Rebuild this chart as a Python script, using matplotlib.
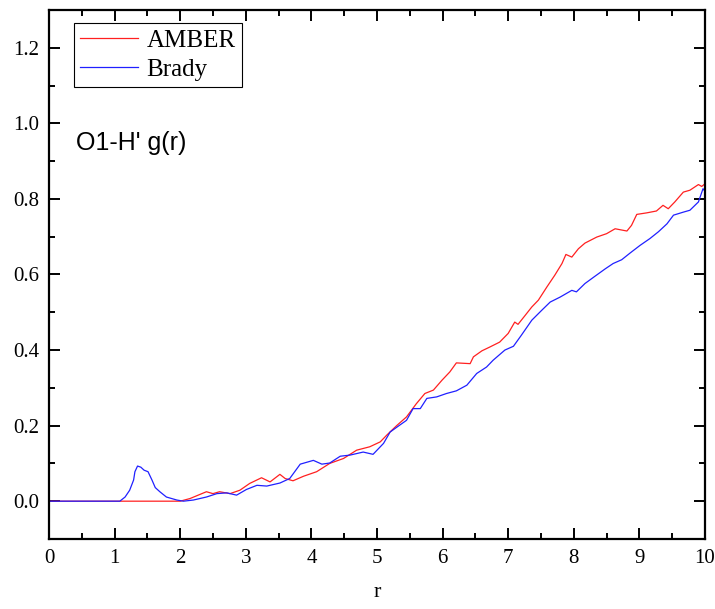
# O1-H' radial distribution, AMBER vs Brady
import numpy as np
import matplotlib.pyplot as plt
from matplotlib.ticker import MultipleLocator

# values
r_amber = [0.0, 1.0, 2.0, 2.15, 2.40, 2.50, 2.60, 2.76, 2.91, 3.06, 3.24, 3.37, 3.52, 3.60,
           3.72, 3.88, 4.08, 4.28, 4.49, 4.69, 4.89, 5.05, 5.15, 5.30, 5.45, 5.60, 5.73,
           5.86, 5.99, 6.11, 6.21, 6.42, 6.47, 6.60, 6.72, 6.87, 7.00, 7.10, 7.15, 7.26,
           7.36, 7.46, 7.59, 7.71, 7.82, 7.88, 7.97, 8.07, 8.17, 8.35, 8.50, 8.63, 8.81,
           8.88, 8.96, 9.11, 9.26, 9.36, 9.44, 9.54, 9.67, 9.77, 9.90, 9.95, 10.0]
g_amber = [0.0, 0.0, 0.0, 0.007, 0.025, 0.020, 0.025, 0.020, 0.029, 0.047, 0.062, 0.051, 0.071, 0.060,
           0.054, 0.066, 0.078, 0.100, 0.113, 0.135, 0.144, 0.157, 0.175, 0.200, 0.223, 0.258, 0.285,
           0.294, 0.320, 0.342, 0.366, 0.364, 0.382, 0.398, 0.408, 0.421, 0.444, 0.474, 0.468, 0.492,
           0.514, 0.532, 0.567, 0.598, 0.629, 0.653, 0.646, 0.668, 0.683, 0.699, 0.708, 0.721, 0.715,
           0.730, 0.759, 0.763, 0.768, 0.783, 0.774, 0.792, 0.818, 0.823, 0.838, 0.833, 0.840]

r_brady = [0.0, 1.08, 1.16, 1.23, 1.29, 1.31, 1.35, 1.40, 1.45, 1.51, 1.57, 1.62, 1.69, 1.79,
           1.95, 2.05, 2.20, 2.40, 2.56, 2.71, 2.86, 3.01, 3.17, 3.32, 3.52, 3.67, 3.83,
           4.03, 4.16, 4.28, 4.44, 4.59, 4.79, 4.94, 5.10, 5.20, 5.32, 5.45, 5.55, 5.66,
           5.76, 5.91, 6.06, 6.21, 6.37, 6.52, 6.67, 6.77, 6.95, 7.08, 7.20, 7.36, 7.51,
           7.64, 7.79, 7.97, 8.04, 8.17, 8.32, 8.48, 8.60, 8.73, 8.86, 9.01, 9.16, 9.29,
           9.42, 9.52, 9.67, 9.77, 9.90, 9.97, 10.0]
g_brady = [0.0, 0.0, 0.011, 0.029, 0.056, 0.078, 0.093, 0.090, 0.082, 0.078, 0.056, 0.036, 0.025, 0.011,
           0.003, 0.0, 0.003, 0.011, 0.020, 0.022, 0.016, 0.031, 0.042, 0.040, 0.048, 0.060, 0.098,
           0.108, 0.098, 0.101, 0.119, 0.122, 0.130, 0.124, 0.153, 0.183, 0.198, 0.214, 0.245, 0.245,
           0.272, 0.276, 0.285, 0.292, 0.307, 0.338, 0.355, 0.373, 0.400, 0.410, 0.439, 0.479, 0.505,
           0.527, 0.540, 0.558, 0.554, 0.576, 0.595, 0.615, 0.629, 0.639, 0.657, 0.677, 0.695, 0.713,
           0.734, 0.757, 0.765, 0.770, 0.792, 0.827, 0.820]

serif = ['Liberation Serif', 'DejaVu Serif']

fig = plt.figure(figsize=(7.15, 6.09), dpi=100)
ax = fig.add_axes([0.0685, 0.115, 0.9175, 0.8686])

ax.plot(r_amber, g_amber, color='#ff2020', lw=0.9, label='AMBER')
ax.plot(r_brady, g_brady, color='#2020ff', lw=0.9, label='Brady')

ax.set_xlim(0, 10)
ax.set_ylim(-0.1, 1.3)
ax.xaxis.set_major_locator(MultipleLocator(1))
ax.xaxis.set_minor_locator(MultipleLocator(0.5))
ax.yaxis.set_minor_locator(MultipleLocator(0.1))
ax.set_yticks(np.arange(0, 1.21, 0.2))
ax.set_yticklabels(['%.1f' % v for v in np.arange(0, 1.21, 0.2)])

for s in ax.spines.values():
    s.set_linewidth(1.6)
ax.tick_params(which='both', direction='in', top=True, right=True, width=1.4)
ax.tick_params(which='major', length=8, labelsize=15, pad=7)
ax.tick_params(which='minor', length=4.5)
for lab in ax.get_xticklabels() + ax.get_yticklabels():
    lab.set_family(serif)

ax.set_xlabel('r', family=serif, fontsize=16, labelpad=11)

leg = ax.legend(loc='upper left', bbox_to_anchor=(0.038, 0.975), prop={'family': serif, 'size': 18},
                fancybox=False, edgecolor='black', framealpha=1, handlelength=2.3,
                handletextpad=0.35, borderpad=0.25, labelspacing=0.25, borderaxespad=0)
leg.get_frame().set_linewidth(0.8)

ax.text(0.041, 0.749, "O1-H' g(r)", transform=ax.transAxes, fontsize=18,
        family=['Liberation Sans', 'DejaVu Sans'], va='center', ha='left')

plt.savefig('out.png', dpi=100)
